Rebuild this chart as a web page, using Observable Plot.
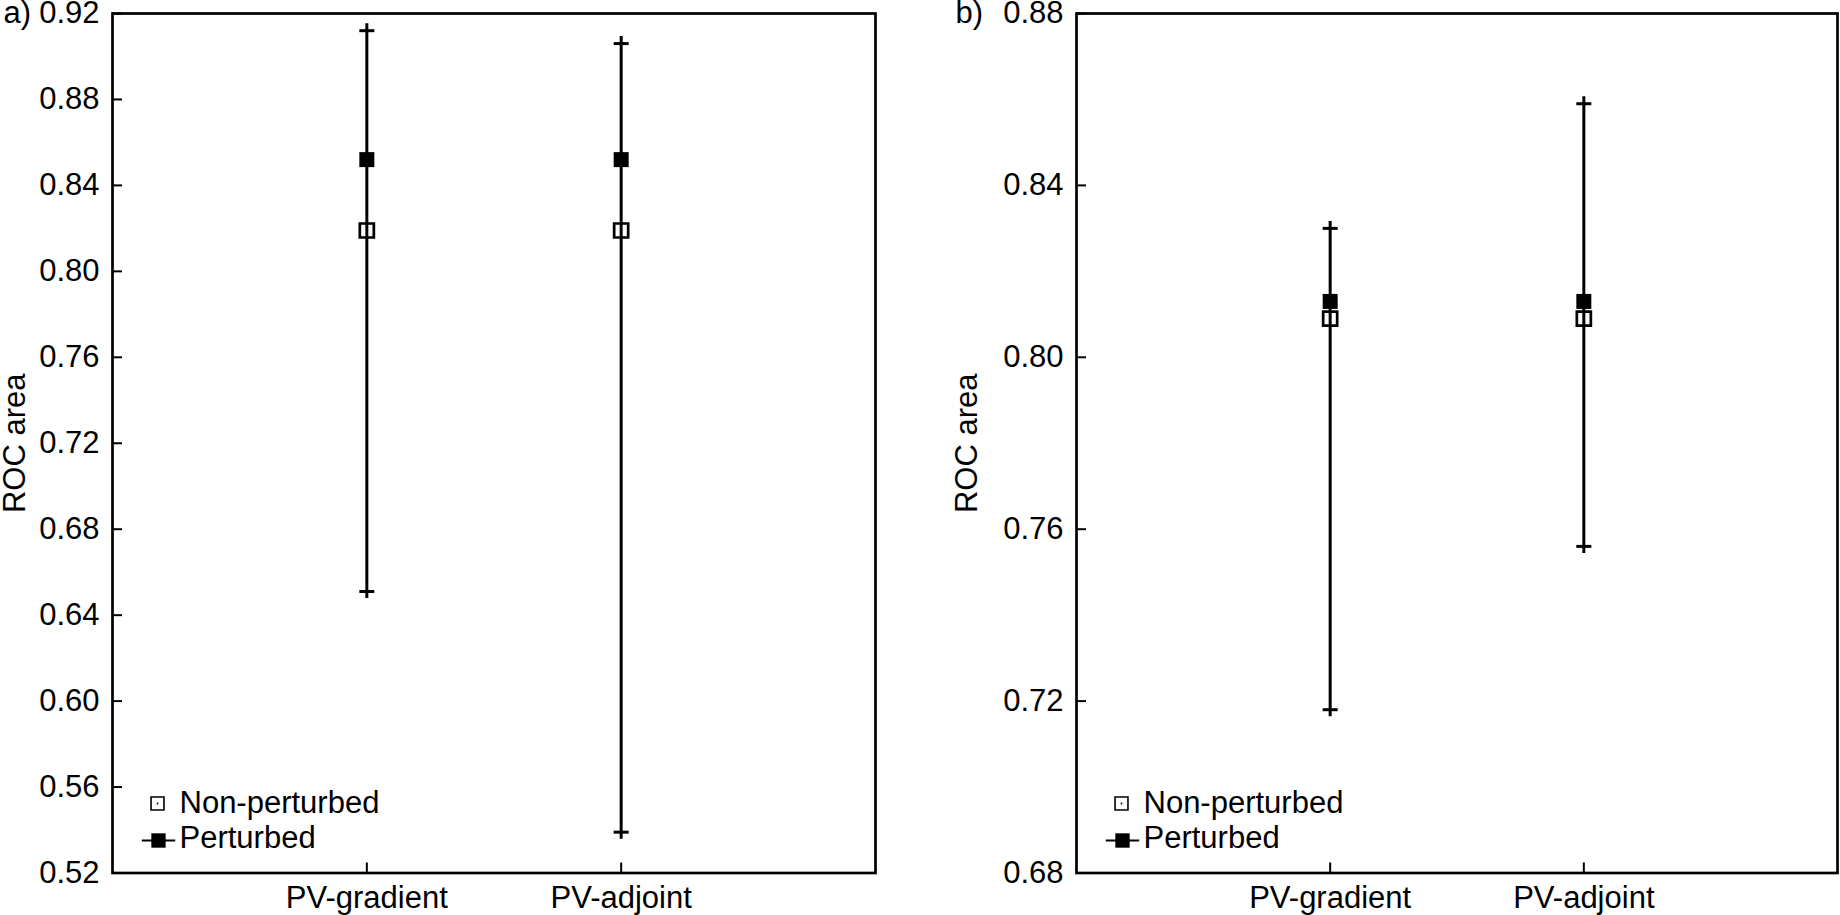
<!DOCTYPE html>
<html><head><meta charset="utf-8">
<script src="https://cdn.jsdelivr.net/npm/d3@7"></script>
<script src="https://cdn.jsdelivr.net/npm/@observablehq/plot@0.6"></script>
<style>
body{margin:0;background:#fff;}
#wrap{display:flex;width:1840px;height:915px;overflow:hidden;}
</style></head><body><div id="wrap"></div>
<script>
// ---- data ----
const categories = ["PV-gradient", "PV-adjoint"];
const seriesNames = ["Non-perturbed", "Perturbed"];
const panelLabels = ["a)", "b)"];
const yLabel = "ROC area";

const aNonPerturbed = [0.819, 0.819];
const aPerturbed = [0.852, 0.852];
const aLow = [0.651, 0.539];
const aHigh = [0.912, 0.906];
const aTicks = [0.52, 0.56, 0.60, 0.64, 0.68, 0.72, 0.76, 0.80, 0.84, 0.88, 0.92];

const bNonPerturbed = [0.809, 0.809];
const bPerturbed = [0.813, 0.813];
const bLow = [0.718, 0.756];
const bHigh = [0.830, 0.859];
const bTicks = [0.68, 0.72, 0.76, 0.80, 0.84, 0.88];

// horizontal bar symbol (error-bar caps, legend line)
const hbar = {draw(ctx, size) { const r = Math.sqrt(size / Math.PI); ctx.moveTo(-r, 0); ctx.lineTo(r, 0); }};

function panel({label, nonP, pert, lo, hi, yTicks, marginLeft, marginRight, labelDx, panelDx}) {
  const rows = categories.map((c, i) => ({cat: c, xi: i + 1, non: nonP[i], pert: pert[i], lo: lo[i], hi: hi[i]}));
  return Plot.plot({
    width: 920, height: 915,
    marginTop: 13, marginBottom: 42.5, marginLeft, marginRight,
    style: {fontFamily: "'Liberation Sans', Arial, sans-serif", fontSize: "31px", color: "black", background: "white", overflow: "visible"},
    x: {domain: [0, categories.length + 1]},
    y: {domain: [yTicks[0], yTicks[yTicks.length - 1]]},
    marks: [
      Plot.axisY({ticks: yTicks, tickFormat: d3.format(".2f"), tickSize: -10, tickPadding: 23, strokeWidth: 2, label: null}),
      Plot.axisX({ticks: categories.map((c, i) => i + 1), tickFormat: d => categories[d - 1], tickSize: -10, tickPadding: 22.5, strokeWidth: 2, label: null}),
      Plot.frame({strokeWidth: 2.7}),
      Plot.ruleX(rows, {x: "xi", y1: "hi", y2: "lo", strokeWidth: 3, insetTop: -7, insetBottom: -7}),
      Plot.dot(rows, {x: "xi", y: "hi", symbol: hbar, r: 7.5, stroke: "black", strokeWidth: 3}),
      Plot.dot(rows, {x: "xi", y: "lo", symbol: hbar, r: 7.5, stroke: "black", strokeWidth: 3}),
      Plot.dot(rows, {x: "xi", y: "non", symbol: "square", r: 7.9, stroke: "black", fill: "none", strokeWidth: 2.7}),
      Plot.dot(rows, {x: "xi", y: "pert", symbol: "square", r: 8.46, fill: "black"}),
      // legend
      Plot.dot([seriesNames[0]], {frameAnchor: "bottom-left", dx: 45, dy: -69.5, symbol: "square", r: 7.3, stroke: "black", fill: "none", strokeWidth: 1.6}),
      Plot.dot([seriesNames[0]], {frameAnchor: "bottom-left", dx: 45, dy: -69.5, r: 0.9, fill: "black"}),
      Plot.dot([seriesNames[1]], {frameAnchor: "bottom-left", dx: 46, dy: -32.5, symbol: hbar, r: 16.7, stroke: "black", strokeWidth: 2.2}),
      Plot.dot([seriesNames[1]], {frameAnchor: "bottom-left", dx: 46, dy: -32.5, symbol: "square", r: 8.1, fill: "black"}),
      Plot.text([seriesNames[0]], {text: d => d, frameAnchor: "bottom-left", dx: 67, dy: -69.7, textAnchor: "start", lineAnchor: "middle", fontSize: 31}),
      Plot.text([seriesNames[1]], {text: d => d, frameAnchor: "bottom-left", dx: 67, dy: -34.5, textAnchor: "start", lineAnchor: "middle", fontSize: 31}),
      // panel label and y-axis title
      Plot.text([label], {text: d => d, frameAnchor: "top-left", dx: panelDx, textAnchor: "start", lineAnchor: "middle"}),
      Plot.text([yLabel], {text: d => d, frameAnchor: "left", dx: labelDx, rotate: -90, textAnchor: "middle", lineAnchor: "bottom"})
    ]
  });
}

const wrap = document.getElementById("wrap");
wrap.appendChild(panel({label: panelLabels[0], nonP: aNonPerturbed, pert: aPerturbed, lo: aLow, hi: aHigh, yTicks: aTicks,
  marginLeft: 112, marginRight: 45, labelDx: -88, panelDx: -109}));
wrap.appendChild(panel({label: panelLabels[1], nonP: bNonPerturbed, pert: bPerturbed, lo: bLow, hi: bHigh, yTicks: bTicks,
  marginLeft: 156, marginRight: 3, labelDx: -100, panelDx: -121}));
</script>
</body></html>
